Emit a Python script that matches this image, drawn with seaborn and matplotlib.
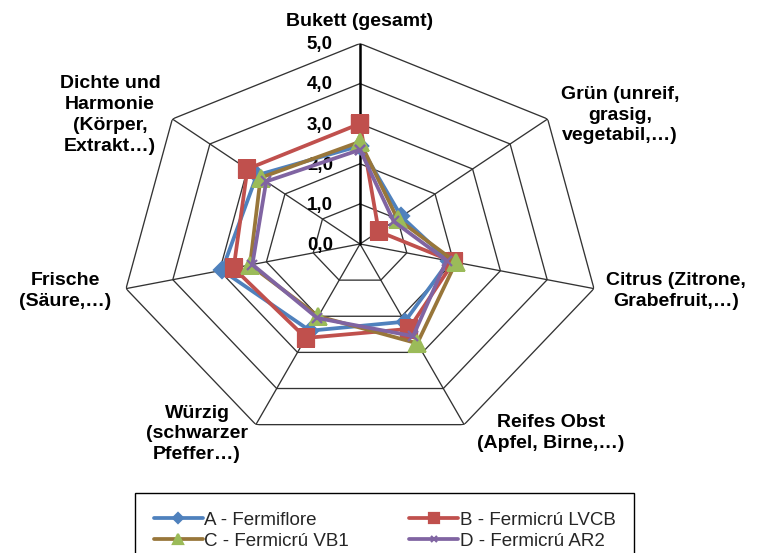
import numpy as np
import matplotlib
matplotlib.use("Agg")
import matplotlib.pyplot as plt
from matplotlib.transforms import offset_copy
import seaborn as sns

# attributes of the wine tasting (radar axes, clockwise from top)
categories = [
    "Bukett (gesamt)",
    "Grün (unreif,\ngrasig,\nvegetabil,…)",
    "Citrus (Zitrone,\nGrabefruit,…)",
    "Reifes Obst\n(Apfel, Birne,…)",
    "Würzig\n(schwarzer\nPfeffer…)",
    "Frische\n(Säure,…)",
    "Dichte und\nHarmonie\n(Körper,\nExtrakt…)",
]
series_names = ["A - Fermiflore", "B - Fermicrú LVCB", "C - Fermicrú VB1", "D - Fermicrú AR2"]
vals_a = [2.45, 1.10, 1.90, 2.15, 2.40, 2.95, 2.75]
vals_b = [3.00, 0.50, 2.00, 2.35, 2.60, 2.70, 3.00]
vals_c = [2.55, 1.00, 2.05, 2.75, 2.00, 2.35, 2.65]
vals_d = [2.35, 0.90, 1.85, 2.55, 2.05, 2.30, 2.50]
r_ticks = [0, 1, 2, 3, 4, 5]
r_tick_labels = ["0,0", "1,0", "2,0", "3,0", "4,0", "5,0"]

sns.set_theme(style="white")
plt.rcParams["font.family"] = ["Liberation Sans", "DejaVu Sans"]

W, H = 758, 553
fig = plt.figure(figsize=(W / 100, H / 100), dpi=100)
fig.patch.set_facecolor("white")

# chart area (Excel stretched it wider than tall)
cx, cy, rx, ry = 360, 244, 240, 200.5
ax = fig.add_axes([(cx - rx) / W, 1 - (cy + ry) / H, 2 * rx / W, 2 * ry / H], projection="polar")
ax.set_aspect("auto")
ax.set_theta_zero_location("N")
ax.set_theta_direction(-1)
ax.set_ylim(0, 5)
ax.grid(False)
ax.set_xticks([])
ax.set_yticks([])
ax.spines["polar"].set_visible(False)
ax.patch.set_alpha(0)

n = len(categories)
theta = np.arange(n) * 2 * np.pi / n
theta_closed = np.append(theta, theta[0])

# polygon grid
for r in r_ticks[1:]:
    ax.plot(theta_closed, [r] * (n + 1), color="#333333", lw=0.95, zorder=1)
for t in theta[1:]:
    ax.plot([t, t], [0, 5], color="#333333", lw=0.95, zorder=1)
ax.plot([0, 0], [0, 5], color="black", lw=1.8, zorder=1)

tick_tr = offset_copy(ax.transData, fig=fig, x=-19.5, y=-1, units="points")
for r, lbl in zip(r_ticks, r_tick_labels):
    ax.text(0, r, lbl, transform=tick_tr, ha="right", va="center",
            fontsize=13.5, fontweight="bold", color="black")

styles = [
    (vals_a, "#4F81BD", "#4F81BD", "D", 8),
    (vals_b, "#C0504D", "#C0504D", "s", 11),
    (vals_c, "#98763A", "#9BBB59", "^", 11),
    (vals_d, "#8064A2", "#8064A2", "x", 7),
]
for name, (vals, lc, mc, mk, ms) in zip(series_names, styles):
    sns.lineplot(x=theta_closed, y=np.append(vals, vals[0]), sort=False, estimator=None,
                 ax=ax, color=lc, lw=2.7, marker=mk, markersize=ms,
                 markerfacecolor=mc, markeredgecolor=mc, markeredgewidth=1.6,
                 label=name, zorder=3)
ax.set_xlabel("")
ax.set_ylabel("")
ax.set_ylim(0, 5)

# category labels placed like the Excel chart
label_pos = [(360, 22), (620, 115), (676, 291), (551, 433), (197, 434), (65, 291), (110, 115)]
for txt, (px, py) in zip(categories, label_pos):
    fig.text(px / W, 1 - py / H, txt, ha="center", va="center", fontsize=14,
             fontweight="bold", linespacing=1.3, color="black")

# Excel fills the legend row by row
handles, labels = ax.get_legend_handles_labels()
ax.get_legend().remove()
order = [0, 2, 1, 3]
leg = fig.legend([handles[i] for i in order], [labels[i] for i in order],
                 loc="upper left", bbox_to_anchor=(135 / W, 1 - 493 / H),
                 ncol=2, frameon=True, fancybox=False, edgecolor="black", framealpha=1,
                 fontsize=13.5, handlelength=2.6, handletextpad=0.1, columnspacing=3.2,
                 borderpad=1.0, labelspacing=0.2, borderaxespad=0, markerscale=0.6)
leg.get_frame().set_linewidth(1.0)

fig.savefig("out.png", dpi=100)
